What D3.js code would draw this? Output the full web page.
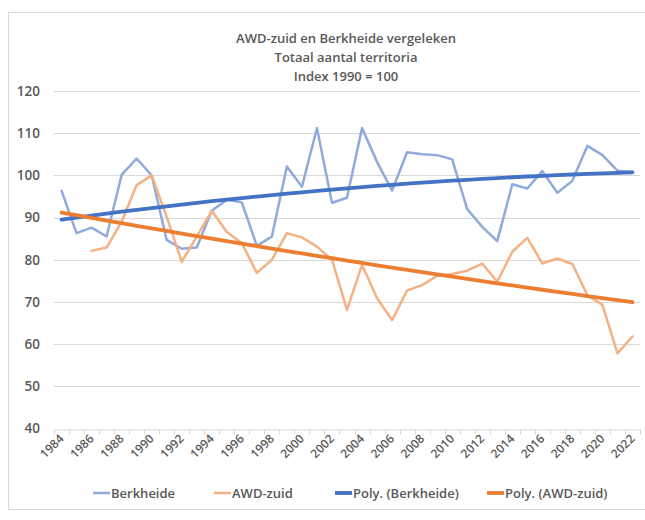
<!DOCTYPE html>
<html><head><meta charset="utf-8">
<script src="https://cdn.jsdelivr.net/npm/d3@7"></script>
<style>body{margin:0;background:#fff}svg{display:block}</style>
</head><body>
<svg id="c" width="645" height="520"></svg>
<script>
const years = d3.range(1984, 2023);
const berkheide = [96.4,86.3,87.6,85.5,100.1,104.0,100,84.7,82.6,82.9,91.6,94.2,93.6,83.3,85.5,102.1,97.3,111.2,93.5,94.7,111.2,103.2,96.4,105.5,105.0,104.8,103.8,92.0,87.8,84.4,97.9,96.9,101.0,95.9,98.7,107.0,104.8,101.1,100.8];
const awdZuid = [null,null,82.1,82.9,89.0,97.7,100,90.2,79.5,85.5,91.6,86.6,83.9,76.9,80.0,86.3,85.3,83.1,80.0,68.1,78.8,70.9,65.7,72.7,74.0,76.2,76.6,77.4,79.1,74.8,81.9,85.2,79.1,80.3,79.0,71.6,69.3,57.8,61.8];
const yTicks = [40,50,60,70,80,90,100,110,120];
const xLabels = years.filter(y => (y - 1984) % 2 === 0);
const titleLines = ["AWD-zuid en Berkheide vergeleken","Totaal aantal territoria","Index 1990 = 100"];
const seriesNames = ["Berkheide","AWD-zuid","Poly. (Berkheide)","Poly. (AWD-zuid)"];
const colors = ["#8faadc","#f4b183","#4472c4","#ed7d31"];

// quadratic least squares (Excel "Poly." trendline, order 2, x = category index)
function polyFit2(vals){
  const pts = vals.map((v,i)=>[i+1,v]).filter(p=>p[1]!=null);
  let S=[0,0,0,0,0], T=[0,0,0];
  pts.forEach(([x,y])=>{ for(let k=0;k<5;k++) S[k]+=Math.pow(x,k); for(let k=0;k<3;k++) T[k]+=y*Math.pow(x,k); });
  const A=[[S[0],S[1],S[2],T[0]],[S[1],S[2],S[3],T[1]],[S[2],S[3],S[4],T[2]]];
  for(let i=0;i<3;i++){ for(let j=i+1;j<3;j++){ const f=A[j][i]/A[i][i]; for(let k=i;k<4;k++) A[j][k]-=f*A[i][k]; } }
  const c=[0,0,0];
  for(let i=2;i>=0;i--){ let s=A[i][3]; for(let k=i+1;k<3;k++) s-=A[i][k]*c[k]; c[i]=s/A[i][i]; }
  return vals.map((v,i)=>{const x=i+1; return c[0]+c[1]*x+c[2]*x*x;});
}
const trendB = polyFit2(berkheide);
const trendA = polyFit2(awdZuid);

const svg = d3.select("#c");
const font = "'Open Sans', 'Liberation Sans', sans-serif";
const textCol = "#595959";

// chart border
svg.append("rect").attr("x",8.5).attr("y",12.5).attr("width",645).attr("height",497)
  .attr("fill","none").attr("stroke","#d9d9d9");

const pLeft=54, pRight=640, pTop=91, pBottom=428.5;
const x = d3.scaleBand().domain(years).range([pLeft,pRight]);
const y = d3.scaleLinear().domain([40,120]).range([pBottom,pTop]);
const cx = yr => x(yr) + x.bandwidth()/2;

// title
svg.append("g").selectAll("text").data(titleLines).join("text")
  .attr("x",346).attr("y",(d,i)=>43+i*19).attr("text-anchor","middle")
  .attr("font-family",font).attr("font-size",13).attr("font-weight",600).attr("fill",textCol)
  .text(d=>d);

// gridlines
svg.append("g").selectAll("line").data(yTicks.slice(1)).join("line")
  .attr("x1",pLeft).attr("x2",pRight).attr("y1",d=>Math.round(y(d))+0.5).attr("y2",d=>Math.round(y(d))+0.5)
  .attr("stroke","#d9d9d9").attr("stroke-width",1);

// y axis labels
const yAxis = d3.axisLeft(y).tickValues(yTicks).tickSize(0).tickPadding(0);
const gy = svg.append("g").attr("transform",`translate(${pLeft-14},0)`).call(yAxis);
gy.select(".domain").remove();
gy.selectAll("text").attr("font-family",font).attr("font-size",13.5).attr("fill",textCol).attr("font-weight",600);

// x axis
const xAxis = d3.axisBottom(x).tickValues(xLabels).tickSize(0).tickPadding(0);
const gx = svg.append("g").attr("transform",`translate(0,${Math.round(pBottom)+0.5})`).call(xAxis);
gx.select(".domain").attr("stroke","#d9d9d9");
gx.selectAll("text").attr("font-family",font).attr("font-size",12).attr("font-weight",600).attr("fill",textCol)
  .attr("text-anchor","end").attr("dy",0).attr("dx",0)
  .attr("transform","translate(3,10) rotate(-45)");
// category boundary tick marks
svg.append("g").selectAll("line").data(years.concat([null])).join("line")
  .attr("x1",(d,i)=>Math.round(pLeft + i*x.step())+0.5).attr("x2",(d,i)=>Math.round(pLeft + i*x.step())+0.5)
  .attr("y1",Math.round(pBottom)+0.5).attr("y2",Math.round(pBottom)+5.5)
  .attr("stroke","#d9d9d9");

// lines
const line = d3.line().defined(d=>d[1]!=null).x(d=>cx(d[0])).y(d=>y(d[1]));
const draw = (vals,col,w) => svg.append("path").datum(years.map((yr,i)=>[yr,vals[i]]))
  .attr("d",line).attr("fill","none").attr("stroke",col).attr("stroke-width",w)
  .attr("stroke-linejoin","round").attr("stroke-linecap","round");
draw(berkheide,colors[0],2.5);
draw(awdZuid,colors[1],2.5);
draw(trendB,colors[2],3.8);
draw(trendA,colors[3],3.8);

// legend
const legX = [93,214,335,487];
const lg = svg.append("g");
seriesNames.forEach((n,i)=>{
  lg.append("line").attr("x1",legX[i]).attr("x2",legX[i]+17).attr("y1",493).attr("y2",493)
    .attr("stroke",colors[i]).attr("stroke-width",i<2?2.5:3.8);
  lg.append("text").attr("x",legX[i]+18).attr("y",497.5).attr("font-family",font).attr("font-size",13)
    .attr("font-weight",600).attr("fill",textCol).text(n);
});
</script>
</body></html>
